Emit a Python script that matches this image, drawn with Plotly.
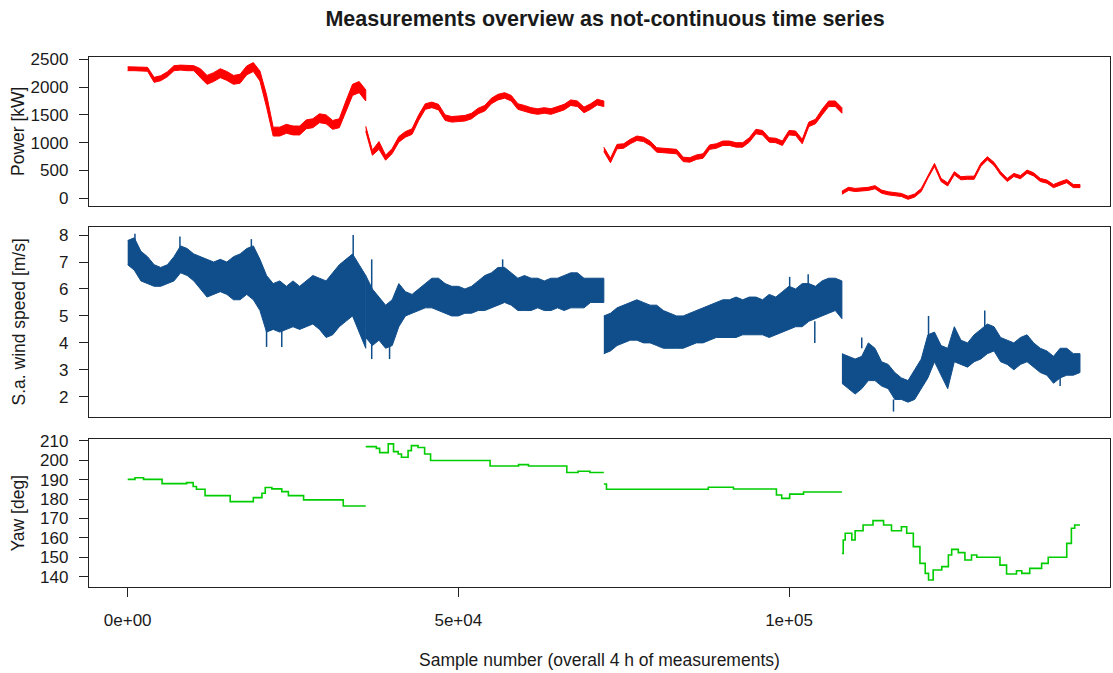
import numpy as np
import plotly.graph_objects as go

# ---------------- data ----------------
SEG_STARTS = [0, 36000, 72000, 108000]   # four 1-hour blocks of samples
STEP = 1000                               # spacing of the read-off points

# Power [kW] - level and half-width of the noise band
power_s1 = [2330, 2330, 2330, 2320, 2130, 2160, 2230, 2340, 2350, 2340, 2340, 2250, 2130, 2180, 2250, 2200,
            2130, 2150, 2300, 2360, 2200, 1750, 1200, 1200, 1250, 1220, 1220, 1330, 1350, 1440, 1420, 1320,
            1350, 1650, 1950, 2000, 1850]
power_s2 = [1250, 820, 950, 730, 850, 1060, 1150, 1200, 1450, 1650, 1680, 1640, 1450, 1420, 1430, 1440,
            1480, 1570, 1620, 1750, 1820, 1850, 1800, 1650, 1620, 1580, 1560, 1580, 1560, 1600, 1640, 1720,
            1700, 1590, 1650, 1730, 1700]
power_s3 = [880, 680, 930, 940, 1020, 1080, 1060, 990, 870, 860, 850, 840, 700, 690, 740, 760,
            920, 940, 990, 990, 960, 960, 1050, 1200, 1180, 1050, 1040, 990, 1180, 1170, 1020, 1330,
            1380, 1550, 1700, 1700, 1580]
power_s4 = [100, 170, 150, 160, 170, 200, 120, 90, 70, 60, 10, 50, 150, 390, 600, 330,
            250, 450, 360, 370, 370, 600, 720, 620, 450, 330, 420, 380, 480, 430, 330, 300,
            220, 270, 310, 220, 220]
power_noise_s1 = [35, 35, 35, 35, 45, 45, 45, 45, 45, 45, 45, 80, 80, 80, 80, 80,
                  80, 80, 80, 80, 90, 110, 80, 80, 80, 80, 80, 80, 80, 80, 80, 80,
                  80, 100, 100, 100, 100]
power_noise_s2 = [45, 45, 70, 45, 45, 50, 50, 50, 50, 50, 50, 50, 50, 50, 50, 50,
                  50, 50, 50, 50, 50, 50, 50, 50, 50, 50, 50, 50, 50, 50, 50, 50,
                  50, 50, 50, 50, 50]
power_noise_s3 = [40, 40, 40, 40, 40, 40, 40, 40, 40, 40, 40, 40, 40, 40, 40, 40,
                  40, 40, 40, 40, 40, 40, 40, 40, 40, 40, 40, 40, 40, 40, 40, 40,
                  40, 50, 50, 50, 50]
power_noise_s4 = [28, 28, 28, 28, 28, 28, 28, 28, 28, 28, 28, 28, 28, 28, 28, 28,
                  28, 28, 28, 28, 28, 28, 28, 28, 28, 28, 28, 28, 28, 28, 28, 28,
                  28, 28, 28, 28, 28]

# Wind speed [m/s] - upper and lower edge of the noisy band
wind_hi_s1 = [7.8, 7.9, 7.4, 7.2, 6.9, 6.8, 6.9, 7.2, 7.6, 7.5, 7.3, 7.2, 7.1, 7.0, 7.1, 7.0,
              7.2, 7.3, 7.5, 7.6, 7.1, 6.5, 6.2, 6.3, 6.1, 6.3, 6.1, 6.3, 6.5, 6.4, 6.3, 6.6,
              6.9, 7.1, 7.3, 6.9, 6.5]
wind_lo_s1 = [6.9, 6.7, 6.3, 6.2, 6.1, 6.1, 6.2, 6.3, 6.6, 6.5, 6.3, 6.0, 5.7, 5.8, 5.9, 5.8,
              5.6, 5.6, 5.8, 5.6, 5.2, 4.4, 4.5, 4.4, 4.5, 4.6, 4.5, 4.6, 4.7, 4.5, 4.2, 4.3,
              4.6, 4.8, 5.0, 4.4, 3.8]
wind_hi_s2 = [6.5, 6.0, 5.7, 5.4, 5.6, 6.2, 5.9, 5.8, 6.0, 6.2, 6.4, 6.4, 6.2, 6.1, 6.1, 6.0,
              6.1, 6.3, 6.5, 6.6, 6.8, 6.8, 6.6, 6.4, 6.5, 6.4, 6.4, 6.3, 6.4, 6.4, 6.5, 6.6,
              6.6, 6.4, 6.4, 6.4, 6.4]
wind_lo_s2 = [4.2, 3.9, 4.1, 3.8, 3.9, 4.6, 5.0, 5.1, 5.2, 5.3, 5.3, 5.2, 5.1, 5.0, 5.0, 5.1,
              5.1, 5.2, 5.2, 5.3, 5.4, 5.5, 5.4, 5.2, 5.2, 5.2, 5.3, 5.2, 5.2, 5.3, 5.2, 5.3,
              5.3, 5.3, 5.5, 5.5, 5.5]
wind_hi_s3 = [5.0, 5.1, 5.3, 5.4, 5.5, 5.6, 5.5, 5.4, 5.4, 5.2, 5.1, 5.0, 5.0, 5.1, 5.2, 5.3,
              5.4, 5.5, 5.6, 5.6, 5.7, 5.6, 5.7, 5.7, 5.6, 5.8, 5.7, 5.9, 6.1, 6.0, 6.2, 6.2,
              6.1, 6.3, 6.4, 6.4, 6.3]
wind_lo_s3 = [3.6, 3.7, 3.9, 4.0, 4.1, 4.1, 4.0, 4.0, 3.9, 3.8, 3.8, 3.8, 3.8, 3.9, 4.0, 4.0,
              4.1, 4.2, 4.2, 4.2, 4.2, 4.3, 4.3, 4.3, 4.3, 4.2, 4.3, 4.4, 4.5, 4.6, 4.6, 4.8,
              4.9, 5.0, 5.1, 5.2, 4.9]
wind_hi_s4 = [3.6, 3.5, 3.4, 3.5, 4.0, 3.8, 3.3, 3.2, 2.9, 2.7, 2.6, 3.0, 3.4, 4.3, 4.4, 3.9,
              3.8, 4.6, 4.1, 4.0, 4.3, 4.5, 4.7, 4.6, 4.2, 4.1, 4.0, 4.2, 4.3, 4.0, 3.8, 3.7,
              3.5, 3.8, 3.8, 3.6, 3.6]
wind_lo_s4 = [2.5, 2.3, 2.1, 2.3, 2.6, 2.6, 2.4, 2.3, 1.9, 1.9, 1.8, 1.9, 2.3, 2.7, 3.3, 2.8,
              2.3, 3.3, 3.2, 3.1, 3.3, 3.4, 3.6, 3.7, 3.3, 3.2, 3.0, 3.2, 3.3, 3.1, 2.9, 2.8,
              2.5, 2.7, 2.8, 2.8, 2.9]
# isolated wind-speed spikes: sample, from, to
wind_spike_x = [1100, 7900, 18700, 21000, 23300, 34100, 36900, 39600, 36900, 56700,
                100100, 102900, 103900, 115800, 121100, 129600, 111000, 141000]
wind_spike_from = [7.2, 7.4, 7.4, 5.0, 5.0, 7.0, 4.0, 4.0, 6.0, 6.5,
                   5.8, 6.0, 4.8, 1.9, 4.3, 4.5, 3.8, 3.0]
wind_spike_to = [8.05, 7.95, 7.85, 3.85, 3.85, 8.0, 3.4, 3.4, 7.1, 7.1,
                 6.45, 6.55, 4.0, 1.45, 5.0, 5.2, 4.2, 2.4]

# Yaw [deg] - step changes (sample where level starts, level)
yaw_x_s1 = [0, 1100, 2400, 5200, 8900, 9900, 10400, 11700, 15500, 19000, 20300, 20800, 21800,
            23300, 24300, 26600, 32600, 36000]
yaw_s1 = [190.2, 191.0, 190.2, 188.0, 188.5, 186.5, 185.1, 181.8, 178.7, 180.8, 183.0, 186.0, 185.3,
          183.9, 181.8, 179.6, 176.5, 176.5]
yaw_x_s2 = [36000, 37600, 38100, 39400, 40200, 40900, 41400, 42400, 42900, 43900, 44900, 45800,
            54800, 59100, 60600, 66400, 68100, 69900, 72000]
yaw_s2 = [207.1, 206.2, 204.0, 208.5, 204.5, 203.3, 201.6, 205.0, 207.6, 206.6, 203.3, 199.9,
          197.1, 197.8, 197.1, 193.7, 194.4, 193.7, 193.7]
yaw_x_s3 = [72000, 72400, 87800, 91600, 98100, 98900, 100100, 102200, 108000]
yaw_s3 = [187.8, 185.1, 186.1, 185.2, 182.1, 180.4, 182.6, 183.7, 183.7]
yaw_x_s4 = [108000, 108200, 108500, 109500, 110000, 111200, 112700, 114300, 115500, 117000, 117800,
            118800, 119800, 120600, 121100, 121800, 123100, 124100, 124600, 125600, 126600, 127600,
            128400, 131900, 132900, 134400, 135200, 136400, 138200, 139200, 142000, 142700, 143200,
            144000]
yaw_s4 = [152.0, 158.9, 162.4, 158.9, 163.7, 166.7, 168.9, 166.7, 163.7, 165.8, 162.4,
          155.5, 146.9, 141.7, 138.3, 143.5, 145.2, 151.2, 154.1, 152.4, 148.6, 151.2,
          150.0, 146.0, 141.4, 143.1, 141.7, 144.3, 146.9, 150.0, 157.2, 165.0, 166.7,
          166.7]

x_tickvals = [0, 50000, 100000]
x_ticktext = ["0e+00", "5e+04", "1e+05"]
power_ticks = [0, 500, 1000, 1500, 2000, 2500]
wind_ticks = [2, 3, 4, 5, 6, 7, 8]
yaw_ticks = [140, 150, 160, 170, 180, 190, 200, 210]

TITLE = "Measurements overview as not-continuous time series"
XTITLE = "Sample number (overall 4 h of measurements)"
YTITLES = ["Power [kW]", "S.a. wind speed [m/s]", "Yaw [deg]"]

# ---------------- styling ----------------
RED = "#FF0000"
BLUE = "#104E8B"
GREEN = "#00CD00"
FONT = "Liberation Sans, Arial, sans-serif"
TXT = "#1a1a1a"

fig = go.Figure()


def band(xs, hi, lo, color, xa, ya, lw):
    xs = np.asarray(xs, dtype=float)
    fig.add_trace(go.Scatter(
        x=np.concatenate([xs, xs[::-1]]),
        y=np.concatenate([np.asarray(hi, float), np.asarray(lo, float)[::-1]]),
        mode="lines", fill="toself", fillcolor=color,
        line=dict(color=color, width=lw),
        xaxis=xa, yaxis=ya, hoverinfo="skip", showlegend=False))


powers = [power_s1, power_s2, power_s3, power_s4]
noises = [power_noise_s1, power_noise_s2, power_noise_s3, power_noise_s4]
for start, p, n in zip(SEG_STARTS, powers, noises):
    p = np.asarray(p, float)
    n = np.asarray(n, float)
    xs = start + STEP * np.arange(len(p))
    band(xs, p + n, p - n, RED, "x", "y", 1.0)

w_hi = [wind_hi_s1, wind_hi_s2, wind_hi_s3, wind_hi_s4]
w_lo = [wind_lo_s1, wind_lo_s2, wind_lo_s3, wind_lo_s4]
for start, hi, lo in zip(SEG_STARTS, w_hi, w_lo):
    xs = start + STEP * np.arange(len(hi))
    band(xs, hi, lo, BLUE, "x2", "y2", 1.0)

sx, sy = [], []
for x0, a, b in zip(wind_spike_x, wind_spike_from, wind_spike_to):
    sx += [x0, x0, None]
    sy += [a, b, None]
fig.add_trace(go.Scatter(x=sx, y=sy, mode="lines", line=dict(color=BLUE, width=1.5),
                         xaxis="x2", yaxis="y2", hoverinfo="skip", showlegend=False))

for xs, ys in [(yaw_x_s1, yaw_s1), (yaw_x_s2, yaw_s2), (yaw_x_s3, yaw_s3), (yaw_x_s4, yaw_s4)]:
    fig.add_trace(go.Scatter(x=xs, y=ys, mode="lines", line=dict(color=GREEN, width=1.6, shape="hv"),
                             xaxis="x3", yaxis="y3", hoverinfo="skip", showlegend=False))

XR = [-5850, 148540]
common_x = dict(range=XR, showgrid=False, zeroline=False, showline=True, mirror=True,
                linecolor="#222222", linewidth=1.3, automargin=False)
common_y = dict(showgrid=False, zeroline=False, showline=True, mirror=True, linecolor="#222222",
                linewidth=1.3, ticks="outside", ticklen=9, tickcolor="#222222", tickwidth=1.2,
                ticklabelstandoff=7, automargin=False,
                tickfont=dict(family=FONT, size=17, color=TXT))

fig.update_layout(
    width=1113, height=673,
    margin=dict(l=89, r=3, t=57, b=86),
    paper_bgcolor="white", plot_bgcolor="white",
    showlegend=False,
    xaxis=dict(anchor="y", showticklabels=False, ticks="", **common_x),
    xaxis2=dict(anchor="y2", showticklabels=False, ticks="", **common_x),
    xaxis3=dict(anchor="y3", tickvals=x_tickvals, ticktext=x_ticktext, ticks="outside",
                ticklen=9, tickcolor="#222222", tickwidth=1.2, ticklabelstandoff=8,
                tickfont=dict(family=FONT, size=17, color=TXT), **common_x),
    yaxis=dict(domain=[0.7189, 1.0], range=[-138, 2541], tickvals=power_ticks, anchor="x", **common_y),
    yaxis2=dict(domain=[0.3208, 0.6792], range=[1.25, 8.30], tickvals=wind_ticks, anchor="x2", **common_y),
    yaxis3=dict(domain=[0.0, 0.2792], range=[134.7, 211.0], tickvals=yaw_ticks, anchor="x3", **common_y),
    title=dict(text="<b>" + TITLE + "</b>", x=(605 - 89) / 1021, xref="paper", y=1 - 18 / 673,
               yref="container", yanchor="middle", xanchor="center",
               font=dict(family=FONT, size=21.5, color=TXT)),
)

centers = [(0.7189 + 1.0) / 2, (0.3208 + 0.6792) / 2, 0.2792 / 2]
for txt, yc in zip(YTITLES, centers):
    fig.add_annotation(text=txt, x=(18.5 - 89) / 1021, y=yc, xref="paper", yref="paper",
                       textangle=-90, showarrow=False, xanchor="center", yanchor="middle",
                       font=dict(family=FONT, size=17.5, color=TXT))
fig.add_annotation(text=XTITLE, x=(599 - 89) / 1021, y=(587 - 660) / 530, xref="paper", yref="paper",
                   showarrow=False, xanchor="center", yanchor="middle",
                   font=dict(family=FONT, size=17.5, color=TXT))

fig.write_html("out.html", config={"displayModeBar": False},
               post_script="document.body.style.margin='0px';")
